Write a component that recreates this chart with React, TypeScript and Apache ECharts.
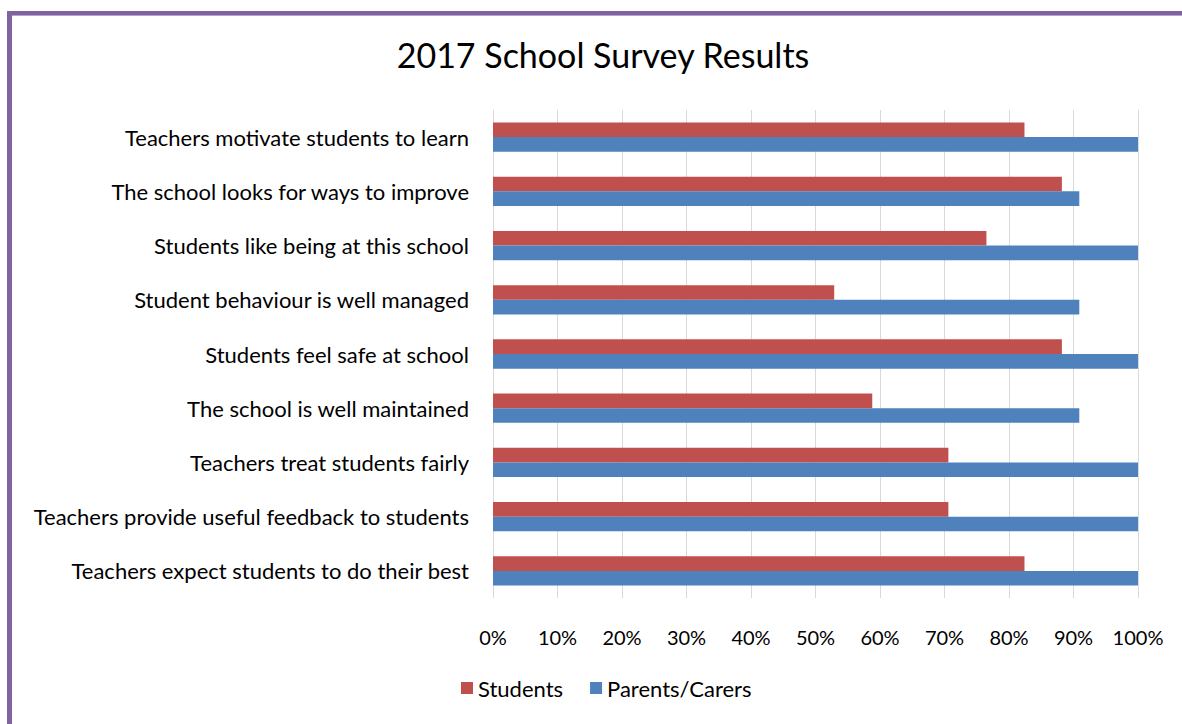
import React, { useEffect, useRef } from "react";
import * as echarts from "echarts";

const categories = [
  "Teachers motivate students to learn",
  "The school looks for ways to improve",
  "Students like being at this school",
  "Student behaviour is well managed",
  "Students feel safe at school",
  "The school is well maintained",
  "Teachers treat students fairly",
  "Teachers provide useful feedback to students",
  "Teachers expect students to do their best",
];
const students = [82.4, 88.2, 76.5, 52.9, 88.2, 58.8, 70.6, 70.6, 82.4];
const parents = [100, 90.9, 100, 90.9, 100, 90.9, 100, 100, 100];
const seriesNames = ["Students", "Parents/Carers"];
const title = "2017 School Survey Results";

const FONT = "Lato";

export default function App() {
  const ref = useRef<HTMLDivElement>(null);
  useEffect(() => {
    if (!ref.current) return;
    const chart = echarts.init(ref.current, null, { renderer: "svg" });
    chart.setOption({
      animation: false,
      backgroundColor: "#ffffff",
      textStyle: { fontFamily: FONT, color: "#000" },
      title: {
        text: title,
        left: 598,
        textAlign: "center",
        top: 32,
        textStyle: { fontFamily: FONT, fontSize: 34, fontWeight: "normal", color: "#000" },
      },
      legend: {
        data: seriesNames,
        bottom: 20,
        left: 456,
        itemWidth: 12,
        itemHeight: 12,
        itemGap: 27,
        icon: "rect",
        textStyle: { fontFamily: FONT, fontSize: 22, color: "#000" },
      },
      grid: { left: 493, right: 44, top: 110, bottom: 126, containLabel: false },
      xAxis: {
        type: "value",
        min: 0,
        max: 100,
        interval: 10,
        axisLine: { show: false },
        axisTick: { show: false },
        axisLabel: { formatter: "{value}%", fontSize: 20, color: "#000", margin: 29, fontFamily: FONT },
        splitLine: { show: true, lineStyle: { color: "#d9d9d9", width: 1 } },
      },
      yAxis: {
        type: "category",
        data: categories,
        inverse: true,
        axisLine: { show: false },
        axisTick: { show: false },
        axisLabel: { fontSize: 22, color: "#000", margin: 24, fontFamily: FONT },
      },
      series: [
        {
          name: seriesNames[0],
          type: "bar",
          data: students,
          itemStyle: { color: "#c0504d" },
          barGap: "0%",
          barCategoryGap: "46%",
        },
        {
          name: seriesNames[1],
          type: "bar",
          data: parents,
          itemStyle: { color: "#4f81bd" },
          barGap: "0%",
          barCategoryGap: "46%",
        },
      ],
      graphic: [
        { type: "rect", shape: { x: 7, y: 11, width: 1175, height: 4 }, style: { fill: "#7f63a1" } },
        { type: "rect", shape: { x: 12, y: 15, width: 1170, height: 1 }, style: { fill: "#b5a3cf" } },
        { type: "rect", shape: { x: 7, y: 11, width: 5, height: 713 }, style: { fill: "#8064a2" } },
      ],
    });
    return () => chart.dispose();
  }, []);
  return (
    <div
      ref={ref}
      style={{ position: "fixed", left: 0, top: 0, width: 1182, height: 724 }}
    />
  );
}
